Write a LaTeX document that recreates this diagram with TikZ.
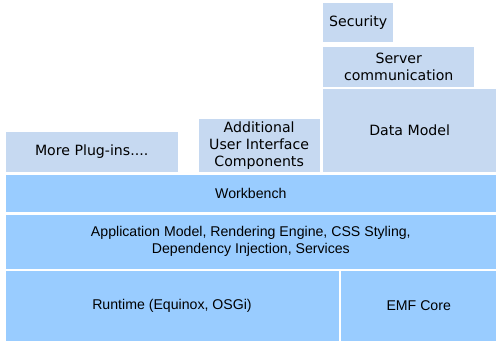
\documentclass[tikz,border=0pt]{standalone}
\usepackage{fontspec}
\setmainfont{DejaVu Sans}
\newfontfamily\layerfont{Liberation Sans}
\usepackage{tikz}

\begin{document}
\begin{tikzpicture}[x=0.75pt, y=-0.75pt,
        box/.style 2 args={minimum width=#1*0.75pt, minimum height=#2*0.75pt,
            inner sep=0pt, outer sep=0pt, anchor=north west, align=center,
            draw=white, line width=0.6pt},
        plugin/.style={fill=plugblue, font=\fontsize{10.6}{12.8}\selectfont},
        layer/.style={fill=layerblue, font=\layerfont\fontsize{10.6}{12.8}\selectfont}]
        \definecolor{plugblue}{HTML}{C6D9F1}
        \definecolor{layerblue}{HTML}{99CCFF}
        \useasboundingbox (0,0) rectangle (500,344);
        % plug-ins on top
        \node[plugin, box={71}{40}] (sec) at (322.7,2.3) {Security};
        \node[plugin, box={152}{41}] (srv) at (322.7,46.3) {Server\\communication};
        \node[plugin, box={174}{84.5}] (dm) at (322.7,88.3) {Data Model};
        \node[plugin, box={121.7}{54.4}] (ui) at (198.3,118.3) {Additional\\User Interface\\Components};
        \node[plugin, box={173.3}{40.7}] (more) at (5,131.7) {More Plug-ins....};
        % platform layers
        \node[layer, box={491.7}{38}] (wb) at (5,174.3) {Workbench};
        \node[layer, box={491.7}{54.7}] (app) at (5,214.3) {Application Model, Rendering Engine, CSS Styling,\\Dependency Injection, Services};
        \node[layer, box={334}{71}] (rt) at (5,270) {Runtime (Equinox, OSGi)};
        \node[layer, box={156}{71}] (emf) at (340.7,270) {EMF Core};
    \end{tikzpicture}
\end{document}
